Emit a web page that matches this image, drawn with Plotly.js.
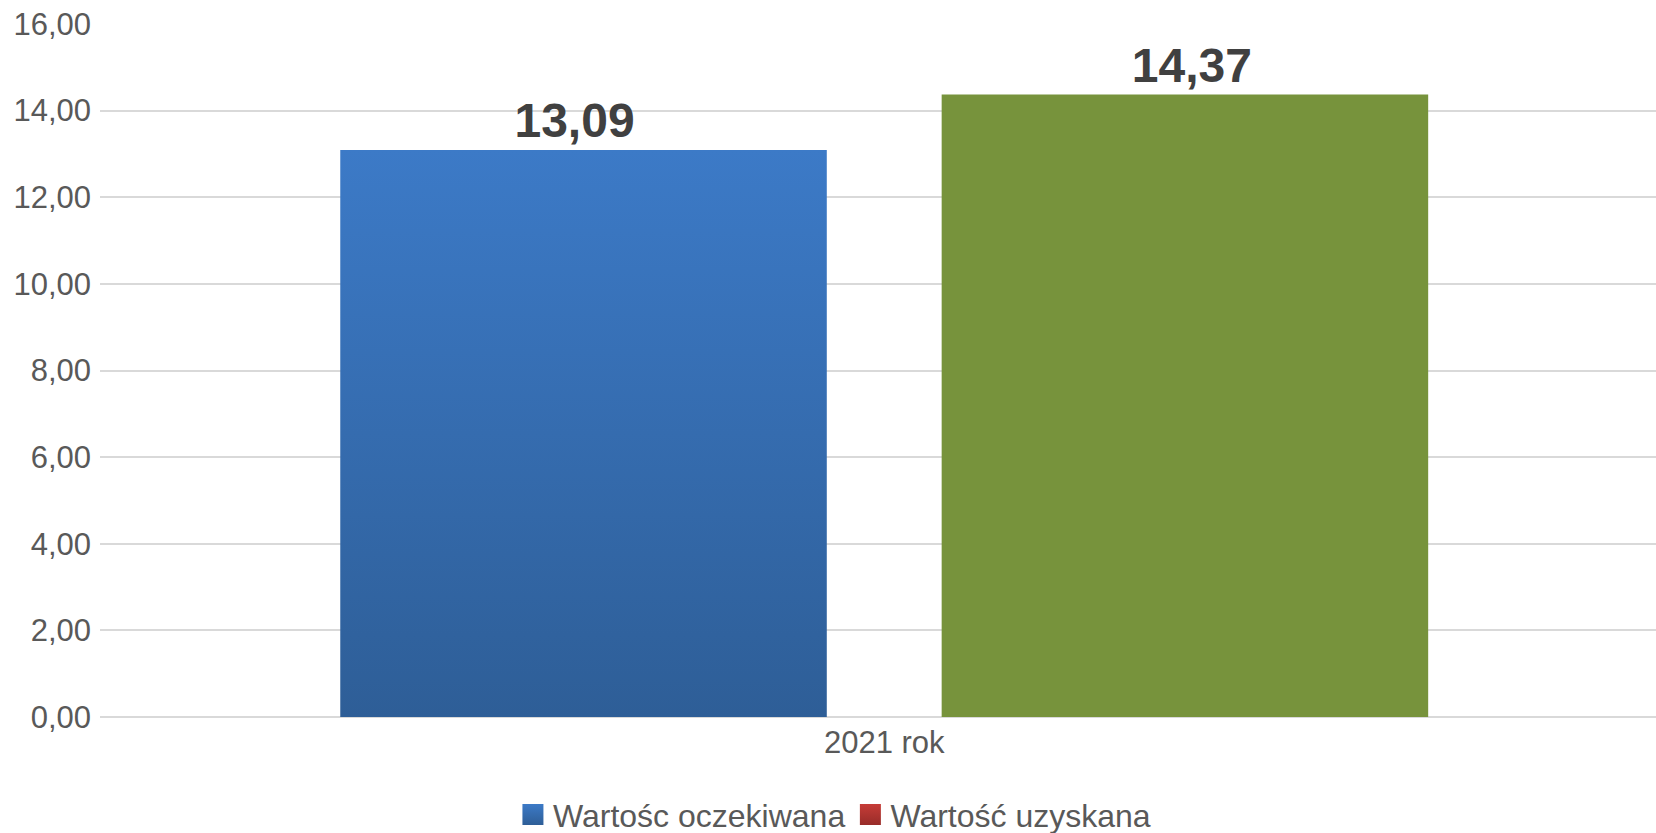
<!DOCTYPE html>
<html>
<head>
<meta charset="utf-8">
<script src="https://cdn.plot.ly/plotly-3.0.1.min.js"></script>
<style>
  html, body { margin: 0; padding: 0; background: #ffffff; }
  #chart { width: 1656px; height: 833px; }
</style>
</head>
<body>
<div id="chart"></div>
<script>
// ---- data ----
const categories = ['2021 rok'];
const seriesNames = ['Wartośc oczekiwana', 'Wartość uzyskana'];
const expectedValues = [13.09];
const obtainedValues = [14.37];
const yTickValues = [0, 2, 4, 6, 8, 10, 12, 14, 16];

const FONT = '"Liberation Sans", Arial, sans-serif';

const traces = [
  {
    type: 'bar',
    name: seriesNames[0],
    x: categories,
    y: expectedValues,
    marker: { color: '#3669AE', line: { width: 0 } },
    texttemplate: '%{y:.2f}',
    textposition: 'outside',
    textfont: { family: FONT, size: 48, color: '#404040', weight: 'bold' },
    cliponaxis: false,
    hoverinfo: 'skip'
  },
  {
    type: 'bar',
    name: seriesNames[1],
    x: categories,
    y: obtainedValues,
    marker: { color: '#77933C', line: { width: 0 } },
    texttemplate: '%{y:.2f}',
    textposition: 'outside',
    textfont: { family: FONT, size: 48, color: '#404040', weight: 'bold' },
    cliponaxis: false,
    showlegend: false,
    hoverinfo: 'skip'
  },
  {
    // legend entry for the second series (its legend key is red in the original)
    type: 'bar',
    name: seriesNames[1],
    x: categories,
    y: [0],
    xaxis: 'x2',
    yaxis: 'y2',
    marker: { color: '#B3332F', line: { width: 0 } },
    showlegend: true,
    hoverinfo: 'skip'
  }
];

const layout = {
  width: 1656,
  height: 833,
  margin: { l: 100, r: 0, t: 24, b: 116, pad: 0 },
  paper_bgcolor: '#ffffff',
  plot_bgcolor: '#ffffff',
  separators: ', ',
  font: { family: FONT, size: 31, color: '#595959' },
  barmode: 'group',
  bargap: 0.227,
  bargroupgap: 0.191,
  showlegend: true,
  legend: {
    orientation: 'h',
    xref: 'paper',
    x: 0.472,
    xanchor: 'center',
    yref: 'container',
    y: 0.022,
    yanchor: 'middle',
    font: { family: FONT, size: 32, color: '#595959' },
    bgcolor: 'rgba(0,0,0,0)',
    itemclick: false,
    itemdoubleclick: false
  },
  xaxis: {
    type: 'category',
    range: [-0.504, 0.496],
    showgrid: false,
    showline: false,
    zeroline: false,
    ticks: '',
    ticklabelstandoff: 4,
    tickfont: { family: FONT, size: 31, color: '#595959' },
    fixedrange: true
  },
  yaxis: {
    range: [0, 16],
    tickvals: yTickValues,
    tickformat: '.2f',
    showgrid: true,
    gridcolor: '#D9D9D9',
    gridwidth: 2,
    zeroline: true,
    zerolinecolor: '#D9D9D9',
    zerolinewidth: 2,
    showline: false,
    ticks: '',
    ticklabelstandoff: 8,
    tickfont: { family: FONT, size: 31, color: '#595959' },
    fixedrange: true
  },
  xaxis2: { overlaying: 'x', visible: false, fixedrange: true },
  yaxis2: { overlaying: 'y', visible: false, range: [0, 1], fixedrange: true }
};

Plotly.newPlot('chart', traces, layout, { staticPlot: true, displayModeBar: false }).then(function (gd) {
  // Add vertical gradients like the original (styling only)
  const svg = gd.querySelector('svg.main-svg');
  const ns = 'http://www.w3.org/2000/svg';
  let defs = svg.querySelector('defs');
  if (!defs) { defs = document.createElementNS(ns, 'defs'); svg.insertBefore(defs, svg.firstChild); }
  function addGrad(id, top, bottom) {
    const g = document.createElementNS(ns, 'linearGradient');
    g.setAttribute('id', id);
    g.setAttribute('x1', '0'); g.setAttribute('y1', '0');
    g.setAttribute('x2', '0'); g.setAttribute('y2', '1');
    const s1 = document.createElementNS(ns, 'stop');
    s1.setAttribute('offset', '0'); s1.setAttribute('stop-color', top);
    const s2 = document.createElementNS(ns, 'stop');
    s2.setAttribute('offset', '1'); s2.setAttribute('stop-color', bottom);
    g.appendChild(s1); g.appendChild(s2);
    defs.appendChild(g);
  }
  addGrad('gradBlue', '#3C7AC7', '#2E5E97');
  addGrad('gradRed', '#C63C37', '#982C29');

  const barTraces = gd.querySelectorAll('.barlayer .trace.bars');
  if (barTraces[0]) barTraces[0].querySelectorAll('path').forEach(p => { p.style.fill = 'url(#gradBlue)'; });

  // the original's value labels sit slightly outward from the bar centres
  const labelNudge = [-9, 7];
  barTraces.forEach((tr, i) => {
    if (labelNudge[i] === undefined) return;
    tr.querySelectorAll('text').forEach(t => {
      const tf = t.getAttribute('transform') || '';
      t.setAttribute('transform', 'translate(' + labelNudge[i] + ',0) ' + tf);
    });
  });

  const legendPaths = gd.querySelectorAll('.legend .legendpoints path');
  legendPaths.forEach((p, i) => {
    const t = p.getAttribute('transform') || '';
    p.setAttribute('transform', t + ' scale(1.75)');
    p.style.strokeWidth = '0';
    p.style.fill = i === 0 ? 'url(#gradBlue)' : 'url(#gradRed)';
  });
});
</script>
</body>
</html>
